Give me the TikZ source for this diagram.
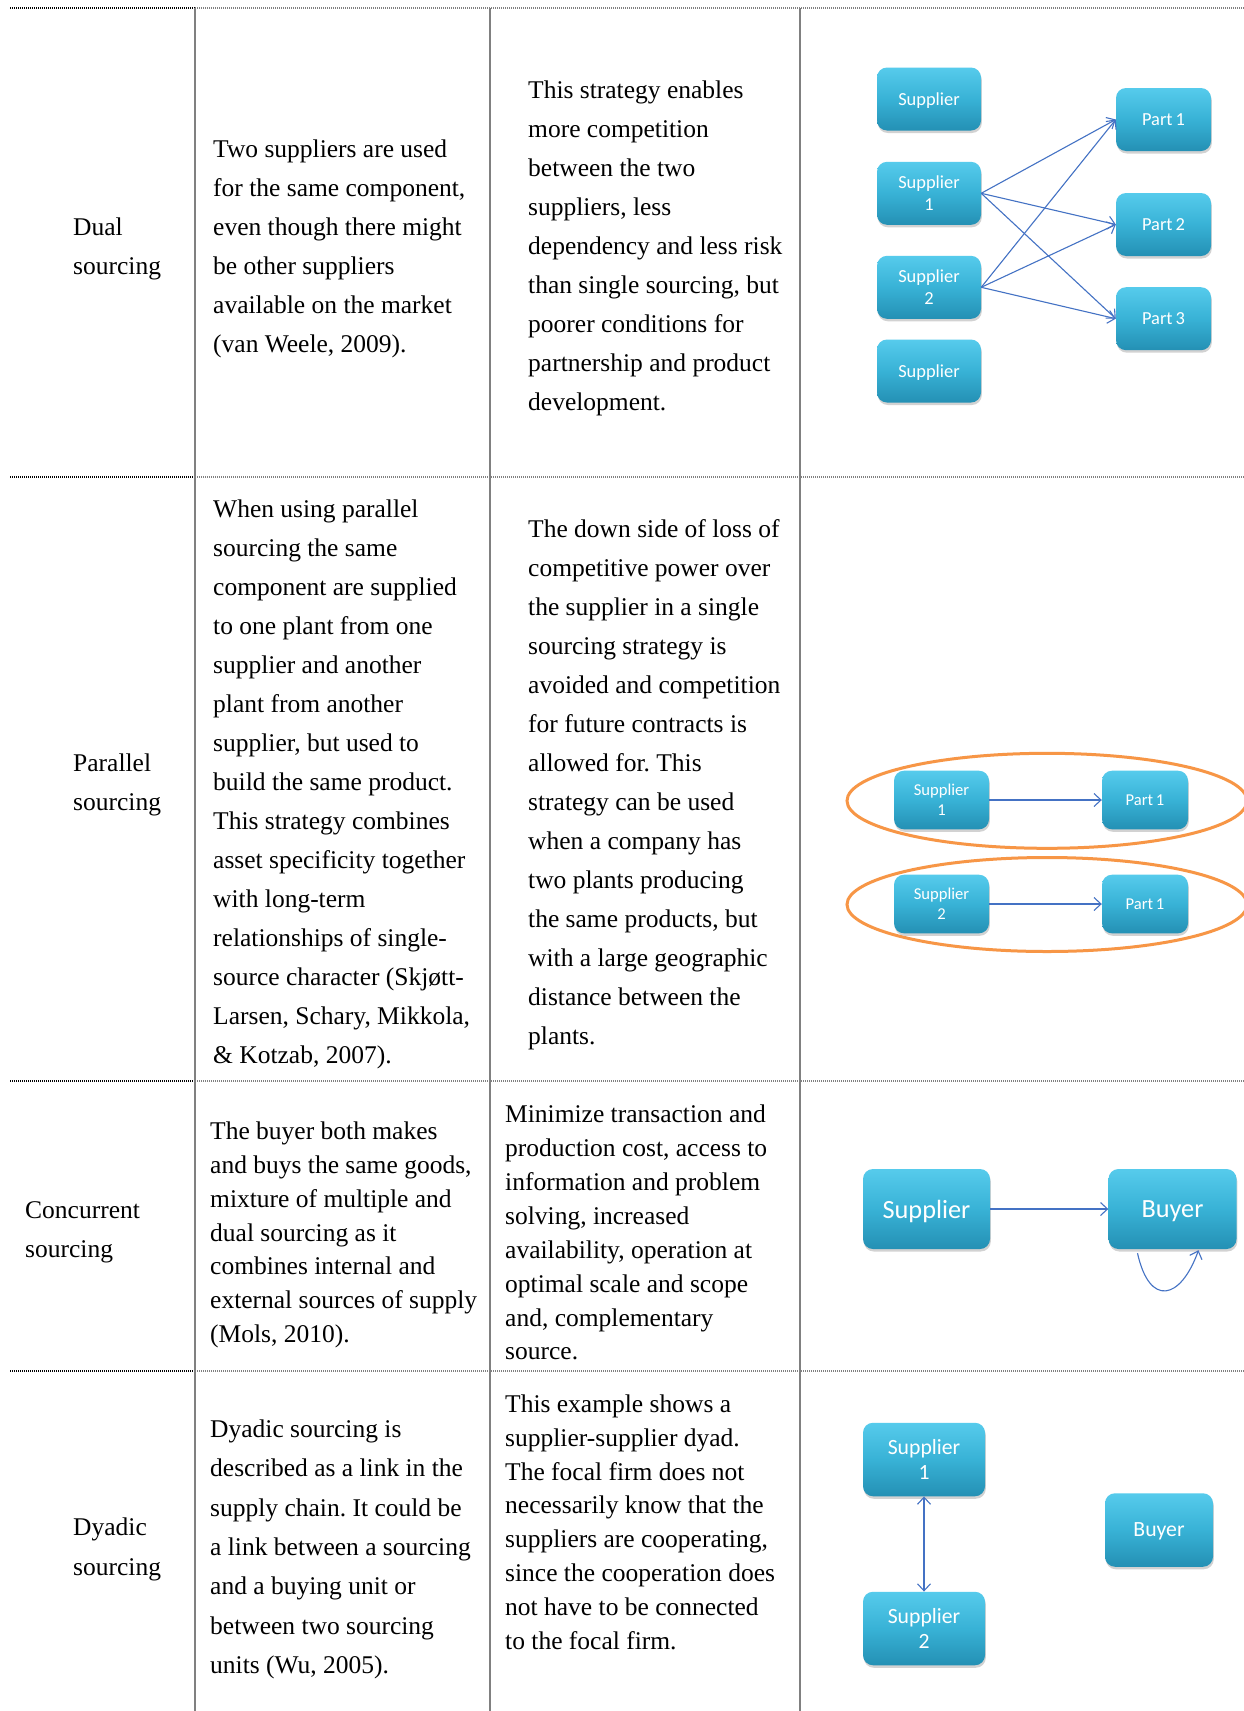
\documentclass[tikz,border=0pt]{standalone}
\usepackage{fontspec}
\setmainfont{Liberation Serif}
\newfontfamily\boxfont{Carlito}
\usetikzlibrary{arrows.meta,shadows}
\frenchspacing

\definecolor{flowblue}{RGB}{68,114,196}
\definecolor{ringorange}{RGB}{247,150,70}
\definecolor{boxtop}{RGB}{86,203,236}
\definecolor{boxmid}{RGB}{56,178,214}
\definecolor{boxbot}{RGB}{36,144,180}
\definecolor{rulegray}{RGB}{128,128,128}

\newcommand\celllines[1]{\parbox[t]{330pt}{\raggedright #1}}

\tikzset{
  cell/.style={anchor=base west, inner sep=0pt, text=black,
    font=\fontsize{25.5}{#1}\selectfont},
  rowrule/.style={line width=1.3pt, dash pattern=on 1pt off 1pt},
  colrule/.style={line width=2pt, rulegray},
  blk/.style={rounded corners=10pt, top color=boxtop, bottom color=boxbot,
    middle color=boxmid, text=white, align=center, inner sep=0pt,
    drop shadow={opacity=0.35, shadow xshift=0.8pt, shadow yshift=-2.5pt}},
  oneline/.style={text depth=0pt},
  blkA/.style={blk, minimum width=104pt, minimum height=63pt,
    font=\boxfont\fontsize{18.4}{21.5}\selectfont},
  blkB/.style={blk, minimum height=58.6pt,
    font=\boxfont\fontsize{16.6}{20}\selectfont},
  blkC/.style={blk, minimum width=127pt, minimum height=80pt,
    font=\boxfont\fontsize{26.3}{30}\selectfont},
  blkD/.style={blk, minimum height=73.5pt,
    font=\boxfont\fontsize{21.7}{25.5}\selectfont},
  flow/.style={flowblue, line width=1.1pt,
    -{Straight Barb[length=7pt,width=13pt,line width=1.1pt]}},
  bothflow/.style={flowblue, line width=1.1pt,
    {Straight Barb[length=7pt,width=13pt,line width=1.1pt]}-{Straight Barb[length=7pt,width=13pt,line width=1.1pt]}},
  ring/.style={draw=ringorange, line width=3pt},
}

\begin{document}
\begin{tikzpicture}[x=1pt,y=-1pt]
\useasboundingbox (0,0) rectangle (1244,1711);
\fill[white] (0,0) rectangle (1244,1711);

% table rules
\foreach \yy in {8,477,1081,1371} {
  \draw[rowrule, black] (10,\yy) -- (195,\yy);
  \draw[rowrule, rulegray] (195,\yy) -- (1244,\yy);
}
\foreach \xx in {195,490,800}
  \draw[colrule] (\xx,8) -- (\xx,1711);

% ---------- Dual sourcing ----------
\node[cell=39] (dualname) at (73,235) {\celllines{Dual\\sourcing}};
\node[cell=39] (dualdef) at (213,157.5) {\celllines{Two suppliers are used\\
for the same component,\\even though there might\\be other suppliers\\
available on the market\\(van Weele, 2009).}};
\node[cell=39] (dualnote) at (528,98.5) {\celllines{This strategy enables\\
more competition\\between the two\\suppliers, less\\dependency and less risk\\
than single sourcing, but\\poorer conditions for\\partnership and product\\
development.}};

\node[blkA, oneline] (sA) at (929,99) {Supplier};
\node[blkA] (s1) at (929,193.3) {Supplier\\1};
\node[blkA] (s2) at (929,287.3) {Supplier\\2};
\node[blkA, oneline] (sB) at (929,371) {Supplier};
\node[blkA, oneline, minimum width=95pt] (p1) at (1163.5,119.5) {Part\,1};
\node[blkA, oneline, minimum width=95pt] (p2) at (1163.5,224.5) {Part\,2};
\node[blkA, oneline, minimum width=95pt] (p3) at (1163.5,318.7) {Part\,3};
\foreach \s in {s1,s2}
  \foreach \p in {p1,p2,p3}
    \draw[flow] (\s.east) -- (\p.west);

% ---------- Parallel sourcing ----------
\node[cell=39] (parname) at (73,771.8) {\celllines{Parallel\\sourcing}};
\node[cell=39] (pardef) at (213,517.6) {\celllines{When using parallel\\
sourcing the same\\component are supplied\\to one plant from one\\
supplier and another\\plant from another\\supplier, but used to\\
build the same product.\\This strategy combines\\asset specificity together\\
with long-term\\relationships of single-\\source character (Skjøtt-\\
Larsen, Schary, Mikkola,\\\& Kotzab, 2007).}};
\node[cell=39] (parnote) at (528,537.2) {\celllines{The down side of loss of\\
competitive power over\\the supplier in a single\\sourcing strategy is\\
avoided and competition\\for future contracts is\\allowed for. This\\
strategy can be used\\when a company has\\two plants producing\\
the same products, but\\with a large geographic\\distance between the\\
plants.}};

\draw[ring] (1047,800.8) ellipse [x radius=200pt, y radius=47.5pt];
\draw[ring] (1047,904.5) ellipse [x radius=200pt, y radius=47pt];
\node[blkB, minimum width=95pt] (q1) at (941.5,800) {Supplier\\1};
\node[blkB, oneline, minimum width=86pt] (r1) at (1145,800) {Part\,1};
\node[blkB, minimum width=95pt] (q2) at (941.5,904) {Supplier\\2};
\node[blkB, oneline, minimum width=86pt] (r2) at (1145,904) {Part\,1};
\draw[flow] (q1) -- (r1);
\draw[flow] (q2) -- (r2);

% ---------- Concurrent sourcing ----------
\node[cell=39] (conname) at (25,1218) {\celllines{Concurrent\\sourcing}};
\node[cell=33.8] (condef) at (210,1139.6) {\celllines{The buyer both makes\\
and buys the same goods,\\mixture of multiple and\\dual sourcing as it\\
combines internal and\\external sources of supply\\(Mols, 2010).}};
\node[cell=33.95] (connote) at (505,1122.3) {\celllines{Minimize transaction and\\
production cost, access to\\information and problem\\solving, increased\\
availability, operation at\\optimal scale and scope\\and, complementary\\
source.}};

\node[blkC, oneline] (cs) at (926.5,1209) {Supplier};
\node[blkC, oneline, minimum width=128pt] (cb) at (1172.5,1209) {Buyer};
\draw[flow] (cs) -- (cb);
\draw[flow] ([xshift=-35pt,yshift=-4pt]cb.south)
  .. controls +(12,54) and +(-18,50) .. ([xshift=26pt,yshift=-1pt]cb.south);

% ---------- Dyadic sourcing ----------
\node[cell=39.3] (dyaname) at (73,1535.7) {\celllines{Dyadic\\sourcing}};
\node[cell=39.3] (dyadef) at (210,1437.5) {\celllines{Dyadic sourcing is\\
described as a link in the\\supply chain. It could be\\a link between a sourcing\\
and a buying unit or\\between two sourcing\\units (Wu, 2005).}};
\node[cell=33.8] (dyanote) at (505,1412.4) {\celllines{This example shows a\\
supplier-supplier dyad.\\The focal firm does not\\necessarily know that the\\
suppliers are cooperating,\\since the cooperation does\\not have to be connected\\
to the focal firm.}};

\node[blkD, minimum width=122pt] (d1) at (924,1459.5) {Supplier\\1};
\node[blkD, minimum width=122pt] (d2) at (924,1628.5) {Supplier\\2};
\node[blkD, oneline, minimum width=108pt] (db) at (1159,1530) {Buyer};
\draw[bothflow] (d1) -- (d2);

\end{tikzpicture}
\end{document}
